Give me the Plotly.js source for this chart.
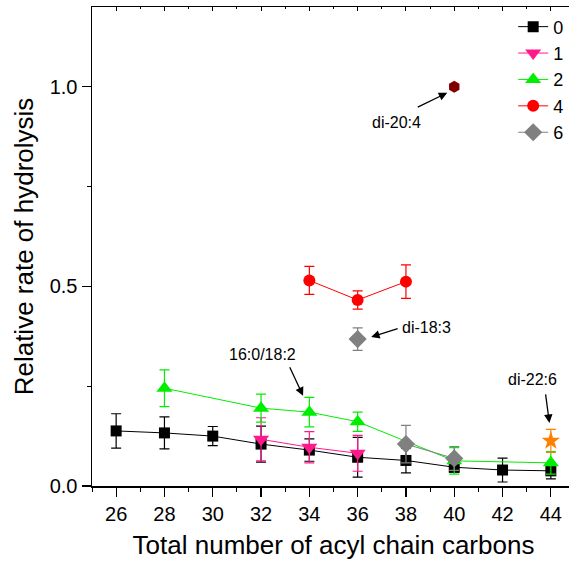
<!DOCTYPE html>
<html>
<head>
<meta charset="utf-8">
<script src="https://cdn.plot.ly/plotly-3.0.1.min.js"></script>
<style>
html,body{margin:0;padding:0;overflow:hidden;background:#fff;}
#chart{width:590px;height:567px;}
</style>
</head>
<body>
<div id="chart"></div>
<script>
// Series "0"
var x0 = [26, 28, 30, 32, 34, 36, 38, 40, 42, 44];
var y0 = [0.138, 0.133, 0.125, 0.105, 0.090, 0.072, 0.064, 0.047, 0.040, 0.038];
var e0 = [0.043, 0.040, 0.024, 0.045, 0.028, 0.050, 0.031, 0.012, 0.030, 0.020];
// Series "1"
var x1 = [32, 34, 36];
var y1 = [0.117, 0.097, 0.082];
var e1 = [0.054, 0.039, 0.045];
// Series "2"
var x2 = [28, 32, 34, 36, 40, 44];
var y2 = [0.245, 0.195, 0.185, 0.161, 0.063, 0.058];
var e2 = [0.046, 0.035, 0.037, 0.024, 0.033, 0.028];
// Series "4"
var x4 = [34, 36, 38];
var y4 = [0.515, 0.466, 0.512];
var e4 = [0.035, 0.023, 0.042];
// Series "6"
var x6 = [38, 40];
var y6 = [0.105, 0.069];
var e6 = [0.047, 0.030];
// Single points
var x18_3 = [36], y18_3 = [0.368], e18_3 = [0.028];
var x20_4 = [40], y20_4 = [1.0];
var x22_6 = [44], y22_6 = [0.113], e22_6 = [0.029];

// Tick labels
var xTicks = [26, 28, 30, 32, 34, 36, 38, 40, 42, 44];
var yTicks = [0, 0.5, 1.0];
var yTickText = ['0.0', '0.5', '1.0'];

// Annotation labels
var labels = ['di-20:4', 'di-18:3', '16:0/18:2', 'di-22:6'];
var labelX = [37.6, 38.87, 32.08, 43.26];
var labelY = [0.91, 0.398, 0.33, 0.266];
var arrowX = [39.71, 36.56, 33.74, 43.94];
var arrowY = [0.985, 0.373, 0.226, 0.158];
var arrowAx = [-31, 28, -14, -4];
var arrowAy = [15, -9, -30, -30];

function series(x, y, e, name, color, symbol, size, showLine, showLegend) {
  var t = {
    x: x, y: y, name: name, type: 'scatter',
    mode: showLine ? 'lines+markers' : 'markers',
    line: {color: color, width: 1},
    marker: {color: color, symbol: symbol, size: size},
    showlegend: showLegend
  };
  if (e) t.error_y = {type: 'data', array: e, visible: true, color: color, thickness: 1.2, width: 5};
  return t;
}

var traces = [
  series(x0, y0, e0, '0', '#000000', 'square', 11, true, true),
  series(x1, y1, e1, '1', '#ff1a8c', 'triangle-down', 14, true, true),
  series(x2, y2, e2, '2', '#00ee00', 'triangle-up', 14, true, true),
  series(x4, y4, e4, '4', '#ff0000', 'circle', 12, true, true),
  series(x6, y6, e6, '6', '#808080', 'diamond', 14, true, true),
  series(x18_3, y18_3, e18_3, 'di-18:3', '#808080', 'diamond', 14, false, false),
  series(x20_4, y20_4, null, 'di-20:4', '#800000', 'hexagon', 12, false, false),
  series(x22_6, y22_6, e22_6, 'di-22:6', '#ff8000', 'star', 14, false, false),
  {x: [], y: [], xaxis: 'x2', type: 'scatter', mode: 'markers', showlegend: false, hoverinfo: 'skip'}
];

var annotations = [];
for (var i = 0; i < labels.length; i++) {
  annotations.push({
    x: labelX[i], y: labelY[i], xref: 'x', yref: 'y', text: labels[i],
    showarrow: false, font: {family: 'Liberation Sans, Arial, sans-serif', size: 16, color: '#000'}
  });
  annotations.push({
    x: arrowX[i], y: arrowY[i], xref: 'x', yref: 'y', text: '',
    showarrow: true, ax: arrowAx[i], ay: arrowAy[i],
    arrowhead: 2, arrowsize: 1.3, arrowwidth: 1.3, arrowcolor: '#000', standoff: 0
  });
}

var layout = {
  width: 590, height: 567,
  margin: {l: 92, r: 15, t: 7, b: 81},
  paper_bgcolor: '#fff', plot_bgcolor: '#fff',
  font: {family: 'Liberation Sans, Arial, sans-serif', color: '#000'},
  showlegend: true,
  legend: {x: 0.872, y: 0.997, xanchor: 'left', yanchor: 'top', bgcolor: 'rgba(0,0,0,0)',
           font: {size: 18, color: '#000'}, tracegroupgap: 0},
  xaxis: {
    range: [25, 45], tickvals: xTicks, ticktext: xTicks.map(String),
    ticks: 'outside', ticklen: 9, tickwidth: 1.3, tickcolor: '#000',
    showline: true, linecolor: '#000', linewidth: 1.5, showgrid: false, zeroline: false,
    tickfont: {size: 20},
    minor: {dtick: 1, tick0: 25, ticks: 'outside', ticklen: 4, tickcolor: '#000', tickwidth: 1},
    title: {text: 'Total number of acyl chain carbons', font: {size: 26}, standoff: 12}
  },
  xaxis2: {
    overlaying: 'x', side: 'top', range: [25, 45], tickvals: xTicks, showticklabels: false,
    ticks: 'inside', ticklen: 4, tickcolor: '#000', showline: true, linecolor: '#000', linewidth: 1.5,
    showgrid: false, zeroline: false,
    minor: {dtick: 1, tick0: 25, ticks: 'inside', ticklen: 2, tickcolor: '#000'}
  },
  yaxis: {
    range: [0, 1.2], tickvals: yTicks, ticktext: yTickText,
    ticks: 'outside', ticklen: 9, tickwidth: 1.3, tickcolor: '#000',
    showline: true, linecolor: '#000', linewidth: 1.5, showgrid: false, zeroline: false,
    tickfont: {size: 20},
    minor: {dtick: 0.25, tick0: 0, ticks: 'outside', ticklen: 4, tickcolor: '#000', tickwidth: 1},
    title: {text: 'Relative rate of hydrolysis', font: {size: 26}, standoff: 8}
  },
  annotations: annotations
};

Plotly.newPlot('chart', traces, layout, {displayModeBar: false, staticPlot: true});
</script>
</body>
</html>
